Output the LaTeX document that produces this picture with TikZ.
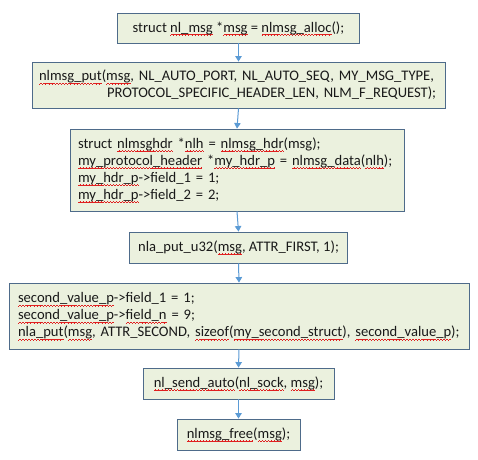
\documentclass[tikz,border=0pt]{standalone}
\usepackage{fontspec}
\setmainfont{Carlito}
\usetikzlibrary{arrows.meta}

\definecolor{boxfill}{HTML}{EBF1DE}
\definecolor{boxline}{HTML}{4E6B8A}
\definecolor{flowline}{HTML}{5B9BD5}
\definecolor{spellred}{HTML}{E02020}

% red wavy spell-check underline below a word
\newsavebox\sqbox
\newcommand\sq[1]{\leavevmode\sbox\sqbox{#1}%
  \rlap{\smash{\color{spellred}\hbox to \wd\sqbox{\xleaders\hbox{%
    \rule[-3.3pt]{0.75pt}{0.55pt}\rule[-2.7pt]{0.75pt}{0.55pt}%
    \rule[-2.3pt]{0.75pt}{0.55pt}\rule[-2.7pt]{0.75pt}{0.55pt}}\hfill}}}%
  \usebox\sqbox}

\tikzset{
  codebox/.style={draw=boxline, line width=0.9pt, fill=boxfill, rectangle,
    inner xsep=9pt, inner ysep=3pt, text=black!90,
    font=\fontsize{14.6}{17}\selectfont},
  codeblock/.style={codebox, align=left, text width=#1},
  flow/.style={draw=flowline, line width=1pt, -{Triangle[length=5.5pt,width=6.5pt]}}
}

\begin{document}
\begin{tikzpicture}[x=1pt, y=-1pt]
  \path[fill=white] (0,0) rectangle (478,459);
  \useasboundingbox (0,0) rectangle (478,459);

  \node[codebox, minimum width=242pt, minimum height=30pt] (b1) at (238.5,28)
    {struct \sq{nl\_msg} *\sq{msg} = \sq{nlmsg\_alloc}();};

  \node[codeblock=399pt, inner xsep=7pt, minimum height=46pt] (b2) at (238.5,85)
    {\sq{nlmsg\_put}(\sq{msg}, NL\_AUTO\_PORT, NL\_AUTO\_SEQ, MY\_MSG\_TYPE,\\
     \hspace*{68pt}PROTOCOL\_SPECIFIC\_HEADER\_LEN, NLM\_F\_REQUEST);};

  \node[codeblock=318pt, inner xsep=8pt, minimum height=82pt] (b3) at (237,170)
    {struct \sq{nlmsghdr} *\sq{nlh} = \sq{nlmsg\_hdr}(msg);\\
     \sq{my\_protocol\_header} *\sq{my\_hdr\_p} = \sq{nlmsg\_data}(\sq{nlh});\\
     \sq{my\_hdr\_p}->field\_1 = 1;\\
     \sq{my\_hdr\_p}->field\_2 = 2;};

  \node[codebox, minimum width=212pt, minimum height=31pt] (b4) at (238.5,247.5)
    {nla\_put\_u32(\sq{msg}, ATTR\_FIRST, 1);};

  \node[codeblock=442pt, minimum height=66pt] (b5) at (239,316)
    {\sq{second\_value\_p}->field\_1 = 1;\\
     \sq{second\_value\_p}->\sq{field\_n} = 9;\\
     \sq{nla\_put}(\sq{msg}, ATTR\_SECOND, \sq{sizeof}(\sq{my\_second\_struct}), \sq{second\_value\_p});};

  \node[codebox, minimum width=191pt, minimum height=31pt] (b6) at (238.5,383.5)
    {\sq{nl\_send\_auto}(\sq{nl\_sock}, \sq{msg});};

  \node[codebox, minimum width=123pt, minimum height=31pt] (b7) at (238.5,434.5)
    {\sq{nlmsg\_free}(\sq{msg});};

  \draw[flow] (b1.south) -- (b2.north);
  \draw[flow] (b2.south) -- (b3.north);
  \draw[flow] (b3.south) -- (b4.north);
  \draw[flow] (b4.south) -- (b5.north);
  \draw[flow] (b5.south) -- (b6.north);
  \draw[flow] (b6.south) -- (b7.north);
\end{tikzpicture}
\end{document}
